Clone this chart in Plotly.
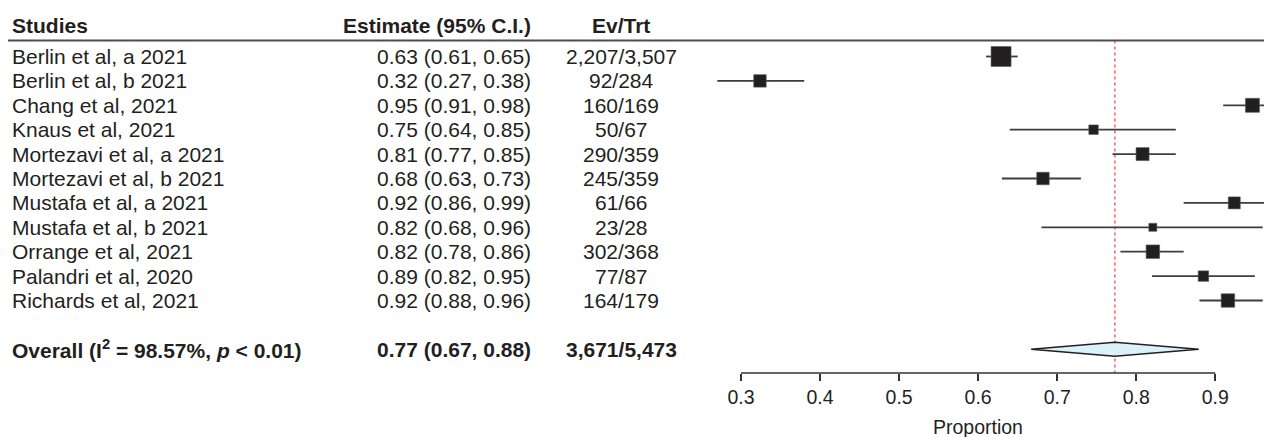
import plotly.graph_objects as go

# ---------------- data ----------------
studies = [
    "Berlin et al, a 2021", "Berlin et al, b 2021", "Chang et al, 2021",
    "Knaus et al, 2021", "Mortezavi et al, a 2021", "Mortezavi et al, b 2021",
    "Mustafa et al, a 2021", "Mustafa et al, b 2021", "Orrange et al, 2021",
    "Palandri et al, 2020", "Richards et al, 2021",
]
estimates = [0.629, 0.324, 0.947, 0.746, 0.808, 0.682, 0.924, 0.821, 0.821, 0.885, 0.916]
ci_low = [0.61, 0.27, 0.91, 0.64, 0.77, 0.63, 0.86, 0.68, 0.78, 0.82, 0.88]
ci_high = [0.65, 0.38, 0.98, 0.85, 0.85, 0.73, 0.99, 0.96, 0.86, 0.95, 0.96]
estimate_labels = [
    "0.63 (0.61, 0.65)", "0.32 (0.27, 0.38)", "0.95 (0.91, 0.98)",
    "0.75 (0.64, 0.85)", "0.81 (0.77, 0.85)", "0.68 (0.63, 0.73)",
    "0.92 (0.86, 0.99)", "0.82 (0.68, 0.96)", "0.82 (0.78, 0.86)",
    "0.89 (0.82, 0.95)", "0.92 (0.88, 0.96)",
]
ev_trt = [
    "2,207/3,507", "92/284", "160/169", "50/67", "290/359", "245/359",
    "61/66", "23/28", "302/368", "77/87", "164/179",
]
overall_est = 0.773
overall_low = 0.667
overall_high = 0.879
overall_label = "Overall (I<sup>2</sup> = 98.57%, <i>p</i> &lt; 0.01)"
overall_est_label = "0.77 (0.67, 0.88)"
overall_ev_trt = "3,671/5,473"
tick_values = [0.3, 0.4, 0.5, 0.6, 0.7, 0.8, 0.9]
tick_labels = ["0.3", "0.4", "0.5", "0.6", "0.7", "0.8", "0.9"]

# ---------------- styling / layout ----------------
# the page body has an 8px default margin, so the figure is drawn 8px smaller
OFF = 8
WIN_W, WIN_H = 1272, 437
W, H = WIN_W - OFF, WIN_H - OFF
FONT = "Liberation Sans, Arial, Helvetica, sans-serif"
TXT = "#231f20"
FS = 21
box_size_px = [20, 12.5, 14, 9.5, 13, 12.5, 12, 8, 13.5, 10.5, 13.5]

row_y = list(range(len(studies)))
overall_row = len(studies) + 1
plot_bottom_px = 373 - OFF
row0_px, row_step = 56.5 - OFF, 24.4
y_top = -row0_px / row_step
y_bot = (plot_bottom_px - row0_px) / row_step
px_per_unit = 790.5
x03_px = 741 - OFF
x_left = 0.3 - x03_px / px_per_unit
x_right = 0.3 + (W - x03_px) / px_per_unit
header_row = (25 - OFF - row0_px) / row_step
header_line = (40.5 - OFF - row0_px) / row_step

fig = go.Figure()

# CI whiskers
cx, cy = [], []
for lo, hi, r in zip(ci_low, ci_high, row_y):
    cx += [lo, hi, None]
    cy += [r, r, None]
fig.add_trace(go.Scatter(x=cx, y=cy, mode="lines",
                         line=dict(color="#3d3d3d", width=1.8),
                         hoverinfo="skip", showlegend=False))

# boxes
fig.add_trace(go.Scatter(x=estimates, y=row_y, mode="markers", opacity=1,
                         marker=dict(symbol="square", size=box_size_px, color="#231f20",
                                     opacity=1, line=dict(color="#5a5a5a", width=0.6)),
                         showlegend=False))

# overall diamond
dh = 7 / row_step
fig.add_trace(go.Scatter(
    x=[overall_low, overall_est, overall_high, overall_est, overall_low],
    y=[overall_row, overall_row - dh, overall_row, overall_row + dh, overall_row],
    mode="lines", fill="toself", fillcolor="#dcf2fb",
    line=dict(color="#231f20", width=1.4), hoverinfo="skip", showlegend=False))

shapes = [
    dict(type="line", xref="paper", yref="y", x0=0, x1=1, y0=header_line, y1=header_line,
         line=dict(color="#4d4d4d", width=2), layer="below"),
    dict(type="line", xref="x", yref="y", x0=overall_est, x1=overall_est,
         y0=header_line, y1=y_bot, line=dict(color="#e8141c", width=1, dash="dot"),
         layer="below"),
    dict(type="line", xref="x", yref="paper", x0=tick_values[0], x1=tick_values[-1],
         y0=0, y1=0, line=dict(color="#333333", width=1.5)),
]

ann = []
def add_text(xpx, y, text, anchor, bold=False):
    ann.append(dict(x=(xpx - OFF) / W, y=y, xref="paper", yref="y",
                    text=f"<b>{text}</b>" if bold else text,
                    showarrow=False, xanchor=anchor, yanchor="middle", borderpad=0,
                    font=dict(family=FONT, size=FS, color=TXT)))

add_text(11, header_row, "Studies", "left", True)
add_text(532, header_row, "Estimate (95% C.I.)", "right", True)
add_text(621, header_row, "Ev/Trt", "center", True)
for s, el, et, r in zip(studies, estimate_labels, ev_trt, row_y):
    add_text(11, r, s, "left")
    add_text(532, r, el, "right")
    add_text(621, r, et, "center")
add_text(11, overall_row, overall_label, "left", True)
add_text(532, overall_row, overall_est_label, "right", True)
add_text(621, overall_row, overall_ev_trt, "center", True)

ann.append(dict(x=(tick_values[0] + tick_values[-1]) / 2,
                y=-(427 - OFF - plot_bottom_px) / plot_bottom_px,
                xref="x", yref="paper", text="Proportion", showarrow=False,
                xanchor="center", yanchor="middle",
                font=dict(family=FONT, size=19.5, color=TXT)))

fig.update_layout(
    width=W, height=H,
    margin=dict(l=0, r=0, t=0, b=H - plot_bottom_px),
    paper_bgcolor="white", plot_bgcolor="white",
    showlegend=False,
    shapes=shapes, annotations=ann,
    xaxis=dict(range=[x_left, x_right], domain=[0, 1], showgrid=False, zeroline=False,
               showline=False, tickmode="array", tickvals=tick_values, ticktext=tick_labels,
               ticks="outside", ticklen=7, tickwidth=1.5, tickcolor="#333333",
               tickfont=dict(family=FONT, size=19.5, color=TXT), fixedrange=True),
    yaxis=dict(range=[y_bot, y_top], showgrid=False, zeroline=False, showline=False,
               showticklabels=False, ticks="", fixedrange=True),
)

fig.write_html("out.html")
